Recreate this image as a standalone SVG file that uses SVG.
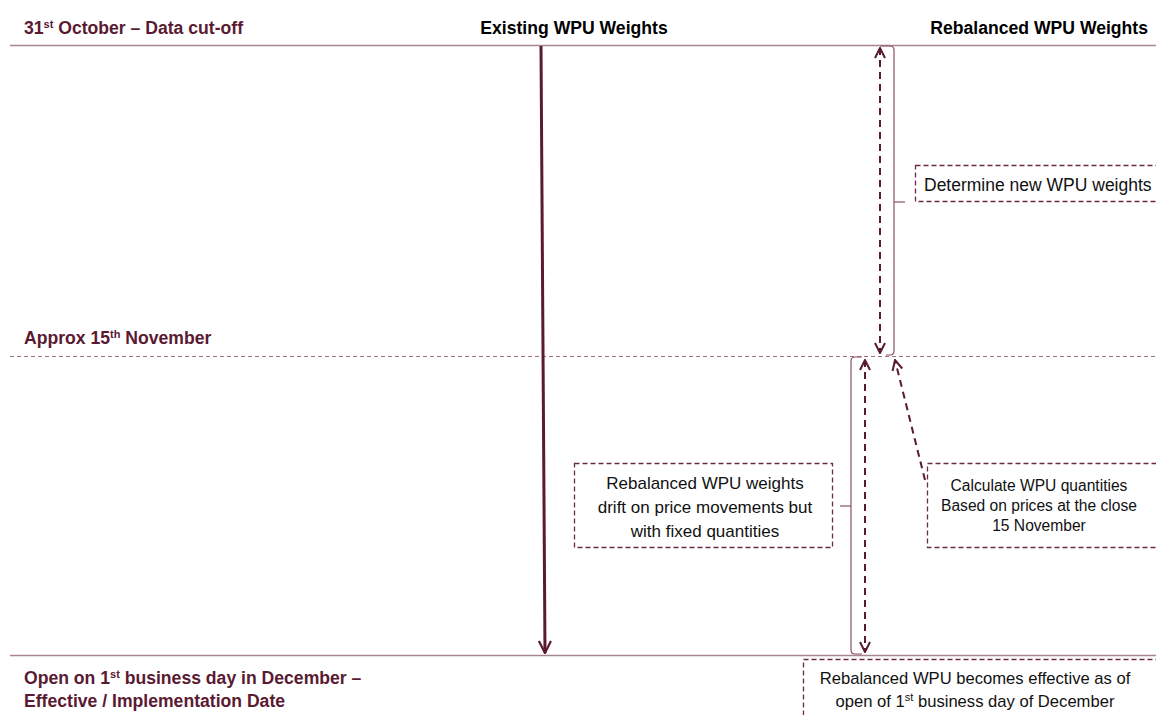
<svg xmlns="http://www.w3.org/2000/svg" width="1156" height="715" viewBox="0 0 1156 715">
<style>
.lbl{font-family:"Liberation Sans",Arial,sans-serif;font-weight:bold;font-size:17.6px;fill:#5a1a32}
.hdr{font-family:"Liberation Sans",Arial,sans-serif;font-weight:bold;font-size:17.6px;fill:#000}
.t{font-family:"Liberation Sans",Arial,sans-serif;font-size:17px;fill:#111}
.ts{font-family:"Liberation Sans",Arial,sans-serif;font-size:15.6px;fill:#111}
.sup{font-size:11px}
.box{fill:#fff;stroke:#6b2a45;stroke-width:1.3;stroke-dasharray:5 3}
.rule{stroke:#a88592;stroke-width:1.6;fill:none}
.brk{stroke:#8a5068;stroke-width:1.2;fill:none}
.darr{stroke:#5a1a32;stroke-width:2;stroke-dasharray:7 5;fill:none}
</style>
<defs>
<marker id="ah" viewBox="0 0 12 12" refX="11" refY="6" markerWidth="12" markerHeight="12" markerUnits="userSpaceOnUse" orient="auto-start-reverse">
<path d="M1 1 L11 6 L1 11" fill="none" stroke="#5a1a32" stroke-width="2"/>
</marker>
<marker id="ahb" viewBox="0 0 14 14" refX="13" refY="7" markerWidth="14" markerHeight="14" markerUnits="userSpaceOnUse" orient="auto">
<path d="M1 1 L13 7 L1 13" fill="none" stroke="#5a1a32" stroke-width="2.2"/>
</marker>
</defs>
<rect width="1156" height="715" fill="#fff"/>
<g id="timeline">
<line class="rule" x1="10" y1="45.5" x2="1156" y2="45.5"/>
<line x1="10" y1="356.5" x2="1156" y2="356.5" stroke="#a0707f" stroke-width="1.2" stroke-dasharray="4 3"/>
<line class="rule" x1="10" y1="655.5" x2="1156" y2="655.5"/>
</g>
<g id="labels">
<text class="lbl" x="24" y="34">31<tspan class="sup" dy="-6">st</tspan><tspan dy="6"> October – Data cut-off</tspan></text>
<text class="hdr" x="574" y="34" text-anchor="middle">Existing WPU Weights</text>
<text class="hdr" x="1148" y="34" text-anchor="end">Rebalanced WPU Weights</text>
<text class="lbl" x="24" y="344">Approx 15<tspan class="sup" dy="-6">th</tspan><tspan dy="6"> November</tspan></text>
<text class="lbl" x="24" y="684">Open on 1<tspan class="sup" dy="-6">st</tspan><tspan dy="6"> business day in December –</tspan></text>
<text class="lbl" x="24" y="707">Effective / Implementation Date</text>
</g>
<g id="connectors">
<line x1="541" y1="46" x2="545" y2="653" stroke="#5a1a32" stroke-width="3" marker-end="url(#ahb)"/>
<line class="darr" x1="880" y1="48" x2="880" y2="353" marker-start="url(#ah)" marker-end="url(#ah)"/>
<path class="brk" d="M880 46 L890 46 Q894 46 894 50 L894 351 Q894 355 890 355 L886 355"/>
<line class="brk" x1="894" y1="202" x2="905" y2="202"/>
<line class="darr" x1="865" y1="360" x2="865" y2="652" marker-start="url(#ah)" marker-end="url(#ah)"/>
<path class="brk" d="M862 357 L855 357 Q851 357 851 361 L851 650 Q851 654 855 654 L862 654"/>
<line class="brk" x1="851" y1="506" x2="840" y2="506"/>
<line class="darr" x1="925" y1="480" x2="895" y2="360" marker-end="url(#ah)"/>
</g>
<g id="n-determine">
<rect class="box" x="915.5" y="165.5" width="250" height="36"/>
<text class="t" x="924" y="191" style="font-size:17.5px">Determine new WPU weights</text>
</g>
<g id="n-drift">
<rect class="box" x="574.5" y="463.5" width="258" height="84"/>
<text class="t" x="705" y="489" text-anchor="middle">Rebalanced WPU weights</text>
<text class="t" x="705" y="513" text-anchor="middle">drift on price movements but</text>
<text class="t" x="705" y="537" text-anchor="middle">with fixed quantities</text>
</g>
<g id="n-calc">
<rect class="box" x="927.5" y="463.5" width="240" height="84"/>
<text class="ts" x="1039" y="491" text-anchor="middle">Calculate WPU quantities</text>
<text class="ts" x="1039" y="511" text-anchor="middle">Based on prices at the close</text>
<text class="ts" x="1039" y="531" text-anchor="middle">15 November</text>
</g>
<g id="n-effective">
<rect class="box" x="803.5" y="659.5" width="370" height="70"/>
<text class="t" x="975" y="684" text-anchor="middle" style="font-size:16.6px">Rebalanced WPU becomes effective as of</text>
<text class="t" x="975" y="707" text-anchor="middle" style="font-size:16.6px">open of 1<tspan class="sup" dy="-6">st</tspan><tspan dy="6"> business day of December</tspan></text>
</g>
</svg>
